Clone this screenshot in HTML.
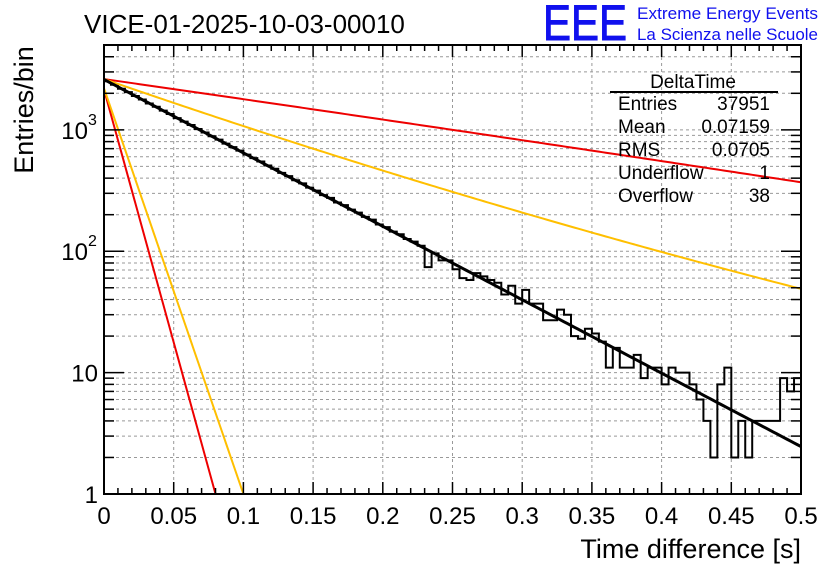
<!DOCTYPE html>
<html><head><meta charset="utf-8"><style>
html,body{margin:0;padding:0;background:#fff;}
svg{display:block;font-family:"Liberation Sans",sans-serif;}
</style></head><body>
<svg id="chart" width="836" height="572" viewBox="0 0 836 572" xmlns="http://www.w3.org/2000/svg">
<rect width="836" height="572" fill="#fff"/>
<text x="84" y="33" font-size="26">VICE-01-2025-10-03-00010</text>
<text x="543" y="40" font-size="50" fill="#1010ee" stroke="#1010ee" stroke-width="1" textLength="84" lengthAdjust="spacingAndGlyphs">EEE</text>
<text x="637" y="19" font-size="17" fill="#1010ee" textLength="181" lengthAdjust="spacingAndGlyphs">Extreme Energy Events</text>
<text x="637" y="40" font-size="17" fill="#1010ee" textLength="181" lengthAdjust="spacingAndGlyphs">La Scienza nelle Scuole</text>
<g id="grid"></g>
<g id="marks"></g>
<g id="axes"></g>
<text transform="translate(33,110) rotate(-90)" font-size="27" text-anchor="middle">Entries/bin</text>
<text x="801" y="558" font-size="27" text-anchor="end">Time difference [s]</text>
<g>
<text x="693" y="88" font-size="19" text-anchor="middle">DeltaTime</text>
<line x1="610" y1="92" x2="778" y2="92" stroke="#000" stroke-width="2"/>
<text x="618" y="110" font-size="19">Entries</text>
<text x="770" y="110" font-size="19" text-anchor="end">37951</text>
<text x="618" y="133" font-size="19">Mean</text>
<text x="770" y="133" font-size="19" text-anchor="end">0.07159</text>
<text x="618" y="156" font-size="19">RMS</text>
<text x="770" y="156" font-size="19" text-anchor="end">0.0705</text>
<text x="618" y="179" font-size="19">Underflow</text>
<text x="770" y="179" font-size="19" text-anchor="end">1</text>
<text x="618" y="202" font-size="19">Overflow</text>
<text x="770" y="202" font-size="19" text-anchor="end">38</text>
</g>
</svg>
<script>
const binCounts = [2511,2350,2180,2045,1900,1780,1650,1550,1440,1350,1250,1170,1095,1015,950,885,830,770,720,675,625,585,548,508,478,442,416,384,362,334,316,290,275,252,240,220,208,192,182,166,158,145,138,126,120,111,74,96,84,84,71,60,58,66,62,58,55,44,52,37,48,37,37,27,27,33,30,20,19,23,21,18,11,16,11,11,14,9,11,11,8,11,10,10,8,6,4,2,8,11,2,4,2,4,4,4,4,9,7,9];
const binWidth = 0.005;
const xTicks = [0,0.05,0.1,0.15,0.2,0.25,0.3,0.35,0.4,0.45,0.5];
const xTickLabels = ["0","0.05","0.1","0.15","0.2","0.25","0.3","0.35","0.4","0.45","0.5"];
const fitAmp = [2600];
const fitTau = [0.0718];
const redSlowX = [0, 0.25, 0.5];
const redSlowY = [2620, 1000, 370];
const yellowSlowX = [0, 0.15, 0.5];
const yellowSlowY = [2620, 700, 49];
const redFastEnds = [2150, 0.08];
const yellowFastEnds = [2200, 0.1];

const X0=104,X1=801,Y0=494,Y1=45,XMAX=0.5,YMIN=1,YMAX=5000;
const ns="http://www.w3.org/2000/svg";
function sx(v){return X0+(v/XMAX)*(X1-X0);}
function sy(v){return Y0-(Math.log10(v)-Math.log10(YMIN))/(Math.log10(YMAX)-Math.log10(YMIN))*(Y0-Y1);}
function mk(tag,attrs,parent){const e=document.createElementNS(ns,tag);for(const k in attrs)e.setAttribute(k,attrs[k]);parent.appendChild(e);return e;}
const grid=document.getElementById('grid'),marks=document.getElementById('marks'),axes=document.getElementById('axes');

xTicks.forEach((t,i)=>{if(i>0&&i<xTicks.length-1){const l=mk('line',{x1:sx(t),x2:sx(t),y1:Y1,y2:Y0,stroke:'#999','stroke-dasharray':'3,3','stroke-width':1},grid);

}});
for(let d=0;d<4;d++)for(let m=1;m<10;m++){const v=m*Math.pow(10,d);if(v<=YMIN||v>YMAX)continue;
const l=mk('line',{x1:X0,x2:X1,y1:sy(v),y2:sy(v),stroke:'#999','stroke-dasharray':'3,3','stroke-width':1},grid);

}

let d='';
binCounts.forEach((c,i)=>{const xa=sx(i*binWidth),xb=sx((i+1)*binWidth);const y=sy(Math.max(c,1));
if(i===0)d+=`M${xa},${y}`;else d+=`L${xa},${y}`;d+=`L${xb},${y}`;});
const hist=mk('path',{d:d,fill:'none',stroke:'#000','stroke-width':2},marks);



function drawPath(fn,xEnd,color,w,name){
 let p='';const n=200;
 for(let j=0;j<=n;j++){const x=xEnd*j/n;const v=fn(x);if(v<YMIN){p+='L'+sx(x)+','+sy(YMIN);break;}p+=(j?'L':'M')+sx(x)+','+sy(v);}
 const e=mk('path',{d:p,fill:'none',stroke:color,'stroke-width':w},marks);
 
 
}
function quadLog(xs,ys){ // log-quadratic through 3 points (Lagrange)
 const L=ys.map(v=>Math.log(v));
 return x=>{let s=0;for(let i=0;i<3;i++){let t=L[i];for(let j=0;j<3;j++)if(j!==i)t*=(x-xs[j])/(xs[i]-xs[j]);s+=t;}return Math.exp(s);};
}
function expFn(a,b,xEnd){const k=Math.log(a/b)/xEnd;return x=>a*Math.exp(-k*x);}
drawPath(quadLog(redSlowX,redSlowY),0.5,'#ee0000',2,'red-slow-curve');
drawPath(quadLog(yellowSlowX,yellowSlowY),0.5,'#ffbf00',2,'yellow-slow-curve');
drawPath(expFn(redFastEnds[0],1,redFastEnds[1]),redFastEnds[1]*1.05,'#ee0000',2,'red-fast-curve');
drawPath(expFn(yellowFastEnds[0],1,yellowFastEnds[1]),yellowFastEnds[1]*1.05,'#ffbf00',2,'yellow-fast-curve');
drawPath(x=>fitAmp[0]*Math.exp(-x/fitTau[0]),0.5,'#000',3,'exponential-fit');

const fr=mk('rect',{x:X0,y:Y1,width:X1-X0,height:Y0-Y1,fill:'none',stroke:'#000','stroke-width':2},axes);


for(let i=0;i<=50;i++){const v=i*0.01;const major=i%5===0;const len=major?12:6;
 mk('line',{x1:sx(v),x2:sx(v),y1:Y0,y2:Y0-len,stroke:'#000','stroke-width':1.5},axes);
 mk('line',{x1:sx(v),x2:sx(v),y1:Y1,y2:Y1+len,stroke:'#000','stroke-width':1.5},axes);}
xTicks.forEach((t,i)=>{const tx=mk('text',{x:sx(t),y:Y0+30,'font-size':24,'text-anchor':'middle'},axes);tx.textContent=xTickLabels[i];

});
for(let dd=0;dd<4;dd++)for(let m=1;m<10;m++){const v=m*Math.pow(10,dd);if(v>YMAX)continue;const len=m===1?20:10;
 mk('line',{x1:X0,x2:X0+len,y1:sy(v),y2:sy(v),stroke:'#000','stroke-width':1.5},axes);
 mk('line',{x1:X1,x2:X1-len,y1:sy(v),y2:sy(v),stroke:'#000','stroke-width':1.5},axes);}
[["1",1],["10",10]].forEach(p=>{const t=mk('text',{x:X0-6,y:sy(p[1])+9,'font-size':24,'text-anchor':'end'},axes);t.textContent=p[0];

});
[[2,100],[3,1000]].forEach(p=>{const t=mk('text',{x:X0-16,y:sy(p[1])+9,'font-size':24,'text-anchor':'end'},axes);t.textContent='10';


const s=mk('text',{x:X0-16,y:sy(p[1])-5,'font-size':16},axes);s.textContent=String(p[0]);

});
</script>
</body></html>
